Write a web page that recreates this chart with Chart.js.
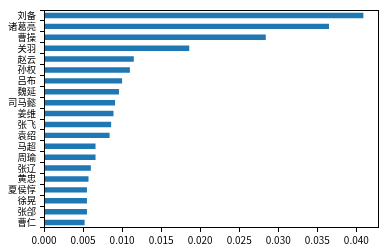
<!DOCTYPE html>
<html><head><meta charset="utf-8">
<script src="https://cdn.jsdelivr.net/npm/chart.js@4/dist/chart.umd.min.js"></script>
<style>html,body{margin:0;padding:0;background:#fff}#c{display:block}</style>
</head><body>
<canvas id="c" width="389" height="250"></canvas>
<script>
const categories = ["刘备","诸葛亮","曹操","关羽","赵云","孙权","吕布","魏延","司马懿","姜维","张飞","袁绍","马超","周瑜","张辽","黄忠","夏侯惇","徐晃","张郃","曹仁"];
const values = [0.0409,0.0365,0.0284,0.0186,0.0115,0.0110,0.0100,0.0096,0.0091,0.0089,0.0086,0.0084,0.0066,0.0066,0.0060,0.0057,0.0055,0.0055,0.0055,0.0052];
const xTicks = [0,0.005,0.010,0.015,0.020,0.025,0.030,0.035,0.040];

const fontX = {family: "'Noto Sans CJK SC', 'DejaVu Sans', sans-serif", size: 10};
const fontY = {family: "'Noto Sans CJK SC', 'DejaVu Sans', sans-serif", size: 9.3};
const frame = {
  id: 'frame',
  afterDraw(chart) {
    const a = chart.chartArea, ctx = chart.ctx;
    ctx.save();
    ctx.strokeStyle = '#000';
    ctx.lineWidth = 1;
    ctx.strokeRect(Math.round(a.left)+0.5, Math.round(a.top)+0.5, Math.round(a.right-a.left)-1, Math.round(a.bottom-a.top)-1);
    ctx.restore();
  }
};
new Chart(document.getElementById('c'), {
  type: 'bar',
  data: {labels: categories, datasets: [{data: values, backgroundColor: '#1f77b4', borderWidth: 0, categoryPercentage: 1, barPercentage: 0.5}]},
  options: {
    indexAxis: 'y', responsive: false, animation: false,
    layout: {padding: {left: 0, top: 10, right: 10, bottom: 0}},
    plugins: {legend: {display: false}, tooltip: {enabled: false}},
    scales: {
      x: {
        min: 0, max: 0.0429,
        afterBuildTicks(s) { s.ticks = xTicks.map(v => ({value: v})); },
        afterFit(s) { s.height = 22; },
        grid: {drawOnChartArea: false, drawTicks: true, tickLength: 4, color: '#000'},
        border: {display: false},
        ticks: {font: fontX, color: '#000', padding: 2, maxRotation: 0, callback: v => Number(v).toFixed(3)}
      },
      y: {
        afterFit(s) { s.width = 44; },
        grid: {drawOnChartArea: false, drawTicks: true, tickLength: 4, color: '#000'},
        border: {display: false},
        ticks: {font: fontY, color: '#000', padding: 4, autoSkip: false}
      }
    }
  },
  plugins: [frame]
});
</script>
</body></html>
